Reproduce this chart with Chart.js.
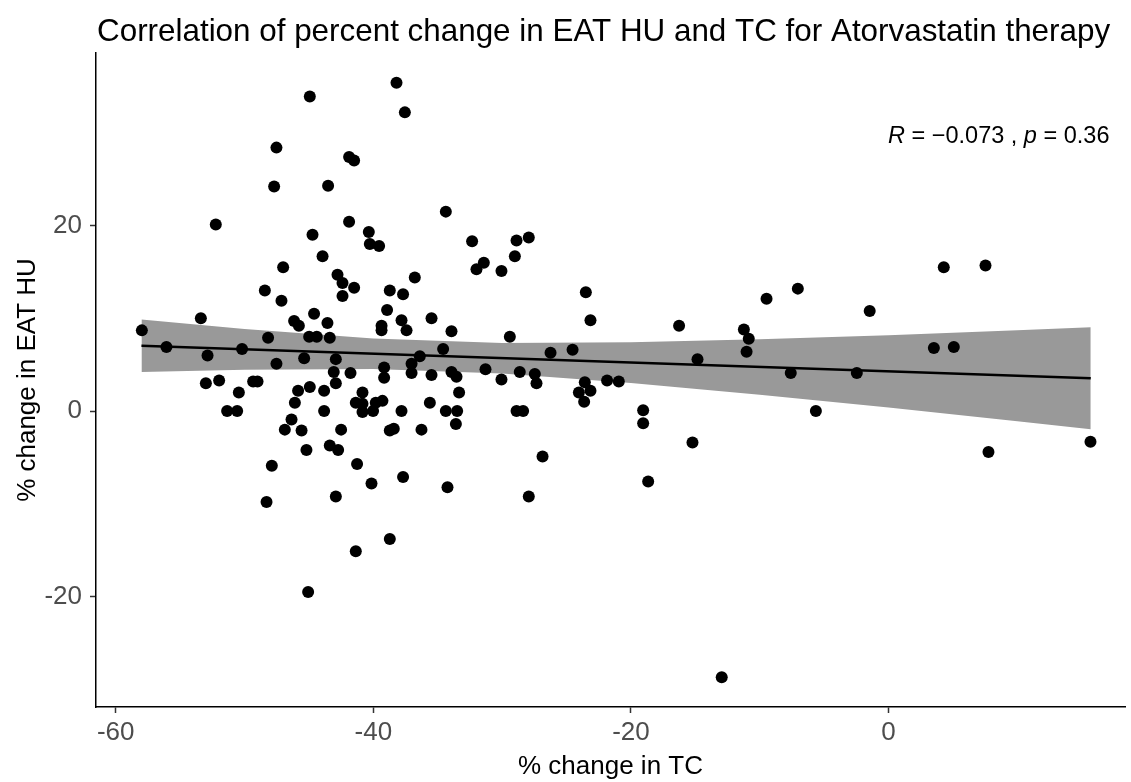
<!DOCTYPE html>
<html>
<head>
<meta charset="utf-8">
<script src="https://cdn.jsdelivr.net/npm/chart.js@4"></script>
<style>
  body { margin: 0; background: #fff; }
  #wrap { width: 1131px; height: 782px; position: relative; }
</style>
</head>
<body>
<div id="wrap"><canvas id="corrChart"></canvas></div>
<script>
// % change in TC (x) and % change in EAT HU (y)
const tcChange = [
  -44.93, -47.52, -47.70, -43.51, -52.23, -44.72, -43.94, -47.00, -48.42, -47.13,
  -53.39, -46.15, -45.78, -44.60, -43.56, -57.97, -48.17, -44.98, -44.39, -43.38,
  -56.06, -50.19, -52.87, -45.37, -47.52, -53.00, -51.97, -49.33, -48.99, -50.44,
  -45.84, -44.93, -43.82, -46.09, -51.35, -50.57, -43.82, -46.35, -46.87, -45.57,
  -45.19, -43.38, -47.88, -48.29, -45.06, -38.20, -37.55, -41.88, -41.49, -34.37,
  -41.88, -40.35, -40.27, -39.55, -32.33, -28.88, -29.01, -42.78, -42.39, -42.39,
  -41.49, -36.78, -31.99, -31.42, -30.05, -38.72, -37.69, -38.93, -37.81, -37.42,
  -35.48, -39.36, -39.36, -33.93, -29.40, -34.58, -36.39, -42.91, -39.16, -37.03,
  -37.03, -43.07, -41.77, -35.48, -33.93, -33.54, -31.29, -30.05, -28.63, -39.16,
  -42.91, -40.84, -41.36, -40.84, -39.81, -39.29, -40.84, -40.02, -37.81, -35.61,
  -33.34, -34.37, -33.49, -28.88, -28.37, -33.59, -42.50, -38.72, -38.41, -36.26,
  -42.73, -41.26, -40.14, -37.69, -34.24, -42.91, -38.72, -41.36, -27.93, -23.50,
  -23.14, -16.26, -11.23, -10.85, -7.04, -9.47, -26.24, -24.53, -14.83, -11.02,
  -27.46, -27.33, -23.58, -24.04, -23.14, -23.63, -21.85, -20.94, -7.59, -19.05,
  -19.05, -15.22, -26.86, -18.66, -27.93, -1.46, 4.29, 7.53, 3.52, 5.07,
  -2.46, -5.64, 7.76, 15.68, -12.95
];
const huChange = [
  33.9, 28.4, 24.2, 24.3, 20.1, 19.0, 16.7, 15.5, 13.0, 11.9,
  10.0, 9.7, 9.2, 10.5, 9.5, 8.7, 7.9, 8.0, 8.0, 7.9,
  6.9, 6.7, 6.0, 5.7, 5.1, 3.0, 3.3, 3.2, 3.2, 2.0,
  2.2, 2.6, 2.2, 0.9, 0.0, 0.0, 0.0, -0.9, -2.0, -2.1,
  -4.2, -3.7, -5.9, -9.8, -19.5, 35.4, 32.2, 27.4, 27.0, 21.5,
  20.4, 19.3, 18.0, 17.8, 18.3, 18.4, 16.7, 14.7, 13.8, 12.4,
  13.3, 14.4, 15.3, 16.0, 15.1, 13.0, 12.6, 10.9, 9.8, 8.7,
  10.0, 9.2, 8.7, 8.6, 8.0, 6.7, 5.9, 5.6, 4.7, 5.1,
  4.1, 4.2, 4.1, 3.9, 4.2, 3.7, 4.5, 3.4, 4.2, 3.6,
  3.0, 2.0, 0.9, 0.8, 0.9, 1.1, -0.1, 0.0, 0.0, 0.9,
  2.0, 0.0, 0.0, 0.0, 0.0, -1.4, -2.0, -2.1, -1.9, -2.0,
  -4.2, -5.7, -7.8, -7.1, -8.2, -9.2, -13.8, -15.1, 18.7, 12.8,
  9.8, 9.2, 8.8, 7.8, 13.2, 12.1, 6.3, 6.6, 5.6, 6.4,
  4.0, 3.0, 3.1, 2.0, 2.2, 1.0, 3.3, 3.2, 4.1, 0.1,
  -1.3, -3.4, -4.9, -7.6, -9.2, 10.8, 15.5, 15.7, 6.8, 6.9,
  4.1, 0.0, -4.4, -3.3, -28.7
];

// fitted line and its confidence band
const fitX = [-58, 15.7];
const fitY = [7.04, 3.53];
const bandX = [-58, -50, -40, -30, -20, -10, 0, 10, 15.7];
const bandUpper = [9.87, 8.86, 7.83, 7.35, 7.43, 7.75, 8.18, 8.70, 9.03];
const bandLower = [4.21, 4.46, 4.53, 4.05, 3.03, 1.75, 0.38, -1.10, -1.97];

const xTicks = [-60, -40, -20, 0];
const yTicks = [-20, 0, 20];

const titleText = 'Correlation of percent change in EAT HU and TC for Atorvastatin therapy';
const xTitle = '% change in TC';
const yTitle = '% change in EAT HU';

const FONT = '"Liberation Sans", Arial, sans-serif';

function toXY(xs, ys) {
  return xs.map((x, i) => ({ x: x, y: ys[i] }));
}

const textPlugin = {
  id: 'textPlugin',
  afterDraw(chart) {
    const ctx = chart.ctx;
    const area = chart.chartArea;
    ctx.save();
    ctx.fillStyle = '#000';
    ctx.textBaseline = 'alphabetic';
    ctx.textAlign = 'left';

    ctx.font = '31.4px ' + FONT;
    ctx.fillText(titleText, area.left + 1, 41);

    // R = -0.073 , p = 0.36  (R and p in italics)
    const parts = [
      ['italic', 'R'], ['normal', ' = \u22120.073 , '],
      ['italic', 'p'], ['normal', ' = 0.36']
    ];
    let x = 888;
    parts.forEach(([style, txt]) => {
      ctx.font = style + ' 23.5px ' + FONT;
      ctx.fillText(txt, x, 143);
      x += ctx.measureText(txt).width;
    });
    ctx.restore();
  }
};

new Chart(document.getElementById('corrChart'), {
  type: 'scatter',
  data: {
    datasets: [
      {
        label: 'points',
        data: toXY(tcChange, huChange),
        pointRadius: 6,
        pointHoverRadius: 6,
        backgroundColor: '#000',
        borderWidth: 0,
        order: 0
      },
      {
        label: 'fit',
        data: toXY(fitX, fitY),
        showLine: true,
        pointRadius: 0,
        borderColor: '#000',
        borderWidth: 2.5,
        order: 1
      },
      {
        label: 'upper',
        data: toXY(bandX, bandUpper),
        showLine: true,
        pointRadius: 0,
        borderWidth: 0,
        borderColor: 'rgba(0,0,0,0)',
        backgroundColor: '#999999',
        fill: '+1',
        order: 2
      },
      {
        label: 'lower',
        data: toXY(bandX, bandLower),
        showLine: true,
        pointRadius: 0,
        borderWidth: 0,
        borderColor: 'rgba(0,0,0,0)',
        fill: false,
        order: 3
      }
    ]
  },
  options: {
    responsive: true,
    maintainAspectRatio: false,
    animation: false,
    layout: { padding: { top: 53, right: 0, bottom: 0, left: 0 } },
    plugins: {
      legend: { display: false },
      tooltip: { enabled: false }
    },
    scales: {
      x: {
        type: 'linear',
        min: -61.53,
        max: 18.36,
        afterBuildTicks: axis => { axis.ticks = xTicks.map(v => ({ value: v })); },
        afterFit: scale => { scale.height = 75; },
        grid: {
          display: true, drawOnChartArea: false, drawTicks: true,
          tickLength: 6, tickColor: '#333333', tickWidth: 1.5
        },
        border: { display: true, color: '#000', width: 1.5 },
        ticks: {
          padding: 4, color: '#4d4d4d', maxRotation: 0,
          font: { family: FONT, size: 26 }
        },
        title: {
          display: true, text: xTitle, color: '#000',
          font: { family: FONT, size: 26 },
          padding: { top: 0, bottom: 0 }
        }
      },
      y: {
        type: 'linear',
        min: -31.9,
        max: 38.6,
        afterBuildTicks: axis => { axis.ticks = yTicks.map(v => ({ value: v })); },
        afterFit: scale => { scale.width = 96; },
        grid: {
          display: true, drawOnChartArea: false, drawTicks: true,
          tickLength: 6, tickColor: '#333333', tickWidth: 1.5
        },
        border: { display: true, color: '#000', width: 1.5 },
        ticks: {
          padding: 8, color: '#4d4d4d',
          font: { family: FONT, size: 26 }
        },
        title: {
          display: true, text: yTitle, color: '#000',
          font: { family: FONT, size: 26 },
          padding: { top: 12, bottom: 0 }
        }
      }
    }
  },
  plugins: [textPlugin]
});
</script>
</body>
</html>
